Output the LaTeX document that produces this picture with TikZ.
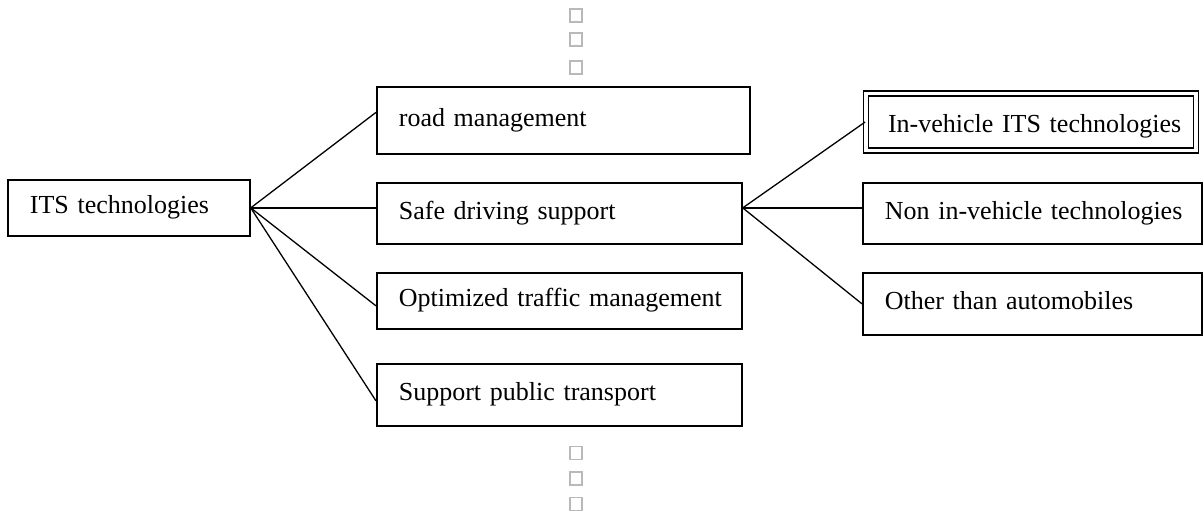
\documentclass[tikz,border=0pt]{standalone}
\usepackage{fontspec}
\setmainfont{Liberation Serif}
\usetikzlibrary{positioning}
\newlength{\pxl}
\setlength{\pxl}{0.4615pt}
\tikzstyle{tbox}=[draw, line width=0.8pt, anchor=north west, align=left, inner xsep=22\pxl, inner ysep=0pt, text height=8pt, text depth=2.5pt, execute at begin node={\leavevmode\hbox\bgroup}, execute at end node={\egroup}]
\tikzstyle{root}=[tbox, text width=198\pxl]
\tikzstyle{branch}=[tbox, text width=321\pxl]
\tikzstyle{leaf}=[tbox, text width=295\pxl]
\tikzstyle{leafd}=[tbox, anchor=center, double, double distance=1.5pt, text width=286\pxl, minimum width=330\pxl, text height=12pt, text depth=2pt]
\tikzstyle{link}=[line width=0.6pt]
\tikzstyle{tofu}=[draw=gray!55, line width=0.5pt, minimum width=12\pxl, minimum height=13\pxl, inner sep=0pt]

\begin{document}
\begin{tikzpicture}[x=0.4615pt,y=-0.4615pt,font=\fontsize{12}{14}\selectfont]
    \useasboundingbox (0,0) rectangle (1203,512);
    \node [root, minimum height=56\pxl] (its) at (7,179) {ITS technologies};
    \node [branch, text width=329\pxl, minimum height=67\pxl] (road) at (376,86) {road management};
    \node [branch, minimum height=61\pxl] (safe) at (376,182) {Safe driving support};
    \node [branch, minimum height=56\pxl] (optim) at (376,272) {Optimized traffic management};
    \node [branch, minimum height=62\pxl] (public) at (376,363) {Support public transport};
    \node [leafd, minimum height=57\pxl] (inveh) at (1031,122) {In-vehicle ITS technologies};
    \node [leaf, minimum height=61\pxl] (nonveh) at (862,182) {Non in-vehicle technologies};
    \node [leaf, minimum height=62\pxl] (other) at (862,272) {Other than automobiles};
    \coordinate (fan) at (safe.east |- its.east);
    \foreach \y [count=\i] in {15.5,39.5,67.5,453,478.5,504}
        \node [tofu] (tofu\i) at (576,\y) {};
    \draw [link] (its.east) -- ([yshift=8\pxl]road.west);
    \draw [link] (its.east) -- (its.east -| safe.west);
    \draw [link] (its.east) -- ([yshift=-5\pxl]optim.west);
    \draw [link] (its.east) -- ([yshift=-6\pxl]public.west);
    \draw [link] (fan) -- (inveh.west);
    \draw [link] (fan) -- (fan -| nonveh.west);
    \draw [link] (fan) -- (other.west);
\end{tikzpicture}
\end{document}
